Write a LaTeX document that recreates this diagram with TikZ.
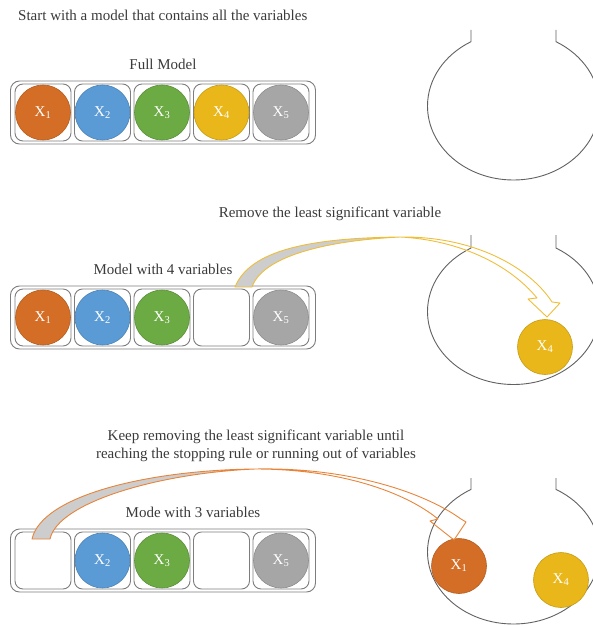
\documentclass[tikz,border=0pt]{standalone}
\usepackage{fontspec}
\setmainfont{Liberation Serif}
\usepackage{xcolor}
\usepackage{tikz}
\definecolor{xorange}{RGB}{212,110,38}
\definecolor{xblue}{RGB}{91,155,213}
\definecolor{xgreen}{RGB}{108,170,68}
\definecolor{xgold}{RGB}{233,183,26}
\definecolor{xgray}{RGB}{166,166,166}
\definecolor{frameline}{RGB}{125,125,125}
\definecolor{ink}{RGB}{58,58,58}
\definecolor{arrgold}{RGB}{238,190,58}
\definecolor{arrorange}{RGB}{232,132,58}
\definecolor{bandgray}{RGB}{205,205,205}

\begin{document}
\begin{tikzpicture}[
  x=1pt, y=-1pt,
  font=\fontsize{15}{18}\selectfont,
  txt/.style={text=ink, inner sep=0pt, align=center},
  frame/.style={draw=frameline, line width=0.9pt, rounded corners=9pt,
                minimum width=305pt, minimum height=63pt, inner sep=0pt},
  slot/.style={draw=frameline, line width=0.9pt, rounded corners=8pt,
               minimum width=56pt, minimum height=57pt, inner sep=0pt},
  ball/.style={circle, minimum size=55pt, inner sep=0pt, text=white,
               fill=#1, draw=#1!85!black, line width=0.6pt},
  flaskline/.style={draw=black!62, line width=0.9pt},
  band/.style={line width=0.9pt, line join=round}
]
% #1 neck top, #2 bulb centre, #3 bulb half height
\newcommand{\flask}[3]{%
  \draw[flaskline] (471,#1) -- (471,{#2-0.869*#3})
    .. controls (444.1,{#2-0.691*#3}) and (427.5,{#2-0.36*#3}) .. (427.5,#2)
    .. controls (427.5,{#2+0.5523*#3}) and (466,{#2+#3}) .. (513.5,{#2+#3})
    .. controls (561,{#2+#3}) and (599.5,{#2+0.5523*#3}) .. (599.5,#2)
    .. controls (599.5,{#2-0.36*#3}) and (582.9,{#2-0.691*#3}) .. (556,{#2-0.869*#3})
    -- (556,#1);}
\useasboundingbox (0,0) rectangle (593,626);

% step 1: full model
\node[txt, anchor=west] (intro) at (18,15) {Start with a model that contains all the variables};
\node[txt] (fulllbl) at (163,64) {Full Model};
\node[frame] (rowA) at (163,112.5) {};
\node[slot] (a1) at (43,112.5) {};
\node[slot] (a2) at (102.5,112.5) {};
\node[slot] (a3) at (162,112.5) {};
\node[slot] (a4) at (221.5,112.5) {};
\node[slot] (a5) at (281,112.5) {};
\node[ball=xorange] (ax1) at (a1) {X\textsubscript{1}};
\node[ball=xblue]   (ax2) at (a2) {X\textsubscript{2}};
\node[ball=xgreen]  (ax3) at (a3) {X\textsubscript{3}};
\node[ball=xgold]   (ax4) at (a4) {X\textsubscript{4}};
\node[ball=xgray]   (ax5) at (a5) {X\textsubscript{5}};
\flask{30}{106}{74}

% step 2: X4 removed
\node[txt] (removelbl) at (330,214) {Remove the least significant variable};
\node[txt] (fourlbl) at (163,269) {Model with 4 variables};
\node[frame] (rowB) at (163,317.5) {};
\node[slot] (b1) at (43,317.5) {};
\node[slot] (b2) at (102.5,317.5) {};
\node[slot] (b3) at (162,317.5) {};
\node[slot] (b4) at (221.5,317.5) {};
\node[slot] (b5) at (281,317.5) {};
\node[ball=xorange] (bx1) at (b1) {X\textsubscript{1}};
\node[ball=xblue]   (bx2) at (b2) {X\textsubscript{2}};
\node[ball=xgreen]  (bx3) at (b3) {X\textsubscript{3}};
\node[ball=xgray]   (bx5) at (b5) {X\textsubscript{5}};
\flask{235}{311.5}{73}
\node[ball=xgold] (outB4) at (545,347) {X\textsubscript{4}};
\fill[bandgray] (235,287) .. controls (250,250) and (310,238) .. (400,237)
  .. controls (320,241) and (262,258) .. (252,287) -- cycle;
\draw[band, arrgold] (235,287) .. controls (250,250) and (310,238) .. (400,237)
  .. controls (460,240) and (510,265) .. (537,298) -- (528,299) -- (547,317)
  -- (560,303) -- (552,302) .. controls (530,268) and (475,236) .. (400,237)
  .. controls (320,241) and (262,258) .. (252,287) -- cycle;

% step 3: X1 removed as well
\node[txt] (keeplbl) at (256,446) {Keep removing the least significant variable until\\
  reaching the stopping rule or running out of variables};
\node[txt] (threelbl) at (193,512) {Mode with 3 variables};
\node[frame] (rowC) at (163,560.5) {};
\node[slot] (c1) at (43,560.5) {};
\node[slot] (c2) at (102.5,560.5) {};
\node[slot] (c3) at (162,560.5) {};
\node[slot] (c4) at (221.5,560.5) {};
\node[slot] (c5) at (281,560.5) {};
\node[ball=xblue]  (cx2) at (c2) {X\textsubscript{2}};
\node[ball=xgreen] (cx3) at (c3) {X\textsubscript{3}};
\node[ball=xgray]  (cx5) at (c5) {X\textsubscript{5}};
\flask{478}{552}{72}
\node[ball=xorange] (outC1) at (459,566) {X\textsubscript{1}};
\node[ball=xgold]   (outC4) at (561,580) {X\textsubscript{4}};
\fill[bandgray] (32,539) .. controls (42,495) and (150,470) .. (255,469)
  .. controls (160,473) and (58,502) .. (50,539) -- cycle;
\draw[band, arrorange] (32,539) .. controls (42,495) and (150,470) .. (255,469)
  .. controls (340,469) and (405,492) .. (438,519) -- (430,521) -- (454,540)
  -- (466,522) -- (461,519) .. controls (425,493) and (350,467) .. (255,469)
  .. controls (160,473) and (58,502) .. (50,539) -- cycle;
\end{tikzpicture}
\end{document}
